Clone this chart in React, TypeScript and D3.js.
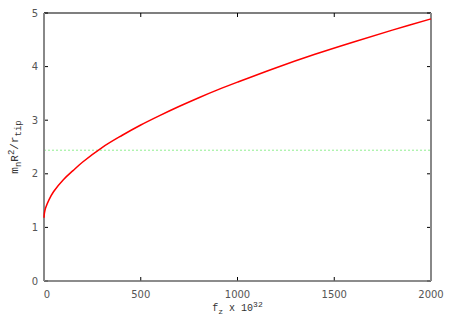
import { useEffect, useRef } from 'react';
import * as d3 from 'd3';

// curve
const fz = [0, 2, 5, 10, 25, 50, 100, 150, 200, 300, 400, 500, 600, 700, 800, 900, 1000, 1200, 1400, 1600, 1800, 2000];
const ratio = [1.18, 1.26, 1.32, 1.38, 1.51, 1.67, 1.89, 2.06, 2.22, 2.49, 2.71, 2.91, 3.09, 3.26, 3.42, 3.57, 3.71, 3.98, 4.23, 4.46, 4.68, 4.89];
const refLevel = 2.44;
const xTicks = [0, 500, 1000, 1500, 2000];
const yTicks = [0, 1, 2, 3, 4, 5];

export default function App() {
    const svgRef = useRef<SVGSVGElement>(null);

    useEffect(() => {
        if (!svgRef.current) return;
        const svg = d3.select(svgRef.current);
        svg.selectAll('*').remove();

        const width = 450;
        const height = 315;
        const m = { left: 44, right: 19, top: 13, bottom: 34 };

        const x = d3.scaleLinear().domain([0, 2000]).range([m.left, width - m.right]);
        const y = d3.scaleLinear().domain([0, 5]).range([height - m.bottom, m.top]);

        const g = svg.append('g');
        const tickFont = 'DejaVu Sans, sans-serif';
        const monoFont = 'Liberation Mono, DejaVu Sans Mono, monospace';

        // reference level
        g.append('line')
            .attr('x1', x(0)).attr('x2', x(2000))
            .attr('y1', y(refLevel)).attr('y2', y(refLevel))
            .attr('stroke', '#90ee90')
            .attr('stroke-width', 1)
            .attr('stroke-dasharray', '2,2');

        // ticks on all four sides
        xTicks.forEach(t => {
            g.append('line').attr('x1', x(t)).attr('x2', x(t))
                .attr('y1', y(0)).attr('y2', y(0) - 4).attr('stroke', '#000');
            g.append('line').attr('x1', x(t)).attr('x2', x(t))
                .attr('y1', y(5)).attr('y2', y(5) + 4).attr('stroke', '#000');
            g.append('text')
                .attr('x', x(t) + (t === 0 ? 3 : 0)).attr('y', y(0) + 17)
                .attr('text-anchor', 'middle')
                .style('font-family', tickFont)
                .style('font-size', '10px')
                .style('fill', '#555')
                .text(t);
        });
        yTicks.forEach(t => {
            g.append('line').attr('x1', x(0)).attr('x2', x(0) + 4)
                .attr('y1', y(t)).attr('y2', y(t)).attr('stroke', '#000');
            g.append('line').attr('x1', x(2000)).attr('x2', x(2000) - 4)
                .attr('y1', y(t)).attr('y2', y(t)).attr('stroke', '#000');
            g.append('text')
                .attr('x', x(0) - 6).attr('y', y(t) + 3.5)
                .attr('text-anchor', 'end')
                .style('font-family', tickFont)
                .style('font-size', '10px')
                .style('fill', '#555')
                .text(t);
        });

        // frame
        g.append('line').attr('x1', x(0)).attr('x2', x(2000)).attr('y1', y(5)).attr('y2', y(5))
            .attr('stroke', '#000').attr('stroke-width', 1.2);
        g.append('line').attr('x1', x(0)).attr('x2', x(2000)).attr('y1', y(0)).attr('y2', y(0))
            .attr('stroke', '#666').attr('stroke-width', 1.5);
        g.append('line').attr('x1', x(0)).attr('x2', x(0)).attr('y1', y(0)).attr('y2', y(5))
            .attr('stroke', '#888').attr('stroke-width', 2);
        g.append('line').attr('x1', x(2000)).attr('x2', x(2000)).attr('y1', y(0)).attr('y2', y(5))
            .attr('stroke', '#888').attr('stroke-width', 2);

        // curve
        const line = d3.line<number>()
            .x((_, i) => x(fz[i]))
            .y(d => y(d))
            .curve(d3.curveCatmullRom.alpha(0.5));
        g.append('path')
            .datum(ratio)
            .attr('d', line)
            .attr('fill', 'none')
            .attr('stroke', '#ff0000')
            .attr('stroke-width', 1.5);

        // x label
        const xl = g.append('text')
            .attr('x', (x(0) + x(2000)) / 2).attr('y', height - 4)
            .attr('text-anchor', 'middle')
            .style('font-family', monoFont)
            .style('font-size', '10px')
            .style('fill', '#333');
        xl.append('tspan').text('f');
        xl.append('tspan').attr('dy', 3).style('font-size', '8px').text('z');
        xl.append('tspan').attr('dy', -3).text(' x 10');
        xl.append('tspan').attr('dy', -4).style('font-size', '8px').text('32');

        // y label
        const yl = g.append('text')
            .attr('transform', `translate(18, ${(y(0) + y(5)) / 2}) rotate(-90)`)
            .attr('text-anchor', 'middle')
            .style('font-family', monoFont)
            .style('font-size', '11px')
            .style('fill', '#333');
        yl.append('tspan').text('m');
        yl.append('tspan').attr('dy', 3).style('font-size', '9px').text('n');
        yl.append('tspan').attr('dy', -3).text('R');
        yl.append('tspan').attr('dy', -4).style('font-size', '9px').text('2');
        yl.append('tspan').attr('dy', 4).text('/r');
        yl.append('tspan').attr('dy', 3).style('font-size', '9px').text('tip');
    }, []);

    return (
        <svg ref={svgRef} width={450} height={315}
            style={{ position: 'absolute', left: 0, top: 0, background: '#fff' }} />
    );
}
